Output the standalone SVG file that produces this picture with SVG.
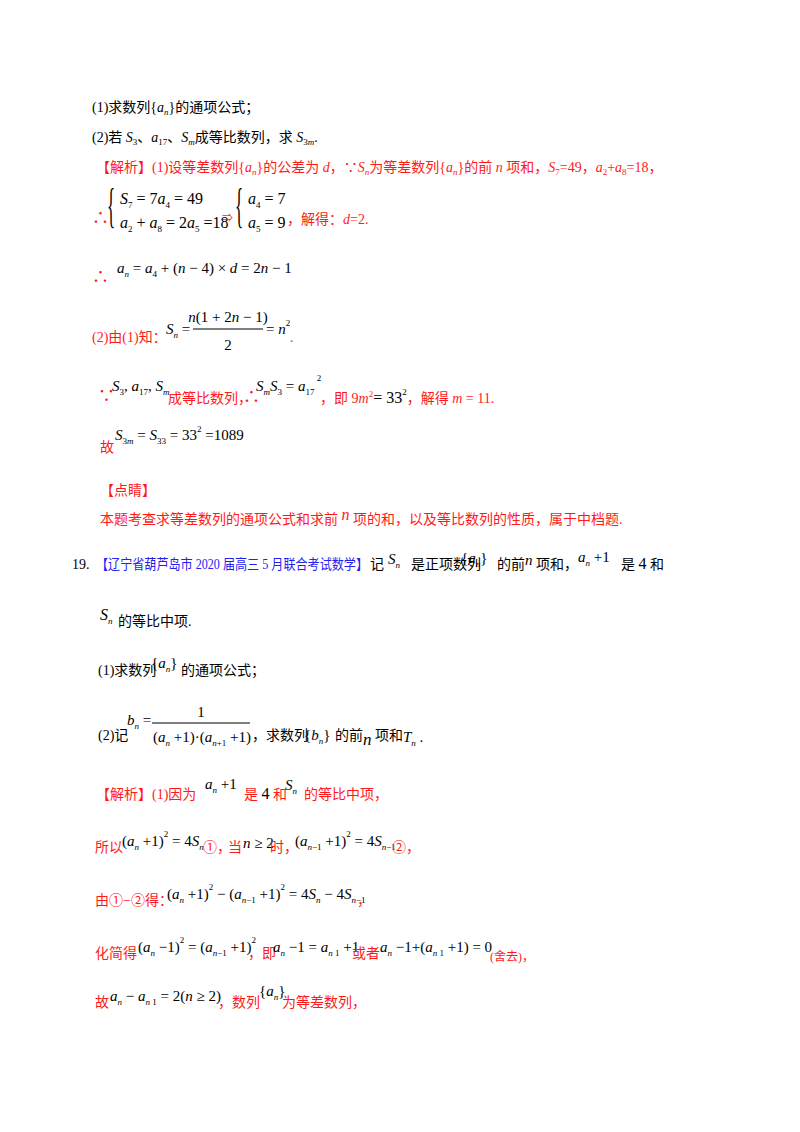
<svg xmlns="http://www.w3.org/2000/svg" width="800" height="1132" viewBox="0 0 800 1132">
<style>
text{font-family:"Liberation Serif","Noto Sans CJK SC",serif;font-size:14px;fill:#000}
.r{fill:#ff1a1a}
.bl{fill:#2222ee}
.m{font-size:15px;font-family:"Liberation Serif","Times New Roman",serif}
.i{font-style:italic}
.s{font-size:9px}
</style>
<rect width="800" height="1132" fill="#fff"/>
<text x="92" y="112">(1)求数列{<tspan class="i">a</tspan><tspan class="s i" dy="3">n</tspan><tspan dy="-3">}的通项公式；</tspan></text>
<text x="92" y="142">(2)若 <tspan class="i">S</tspan><tspan class="s" dy="3">3</tspan><tspan dy="-3">、</tspan><tspan class="i">a</tspan><tspan class="s" dy="3">17</tspan><tspan dy="-3">、</tspan><tspan class="i">S</tspan><tspan class="s i" dy="3">m</tspan><tspan dy="-3">成等比数列，求 </tspan><tspan class="i">S</tspan><tspan class="s" dy="3">3</tspan><tspan class="s i">m</tspan><tspan dy="-3">.</tspan></text>
<text x="96" y="172" class="r">【解析】(1)设等差数列{<tspan class="i">a</tspan><tspan class="s i" dy="3">n</tspan><tspan dy="-3">}的公差为 </tspan><tspan class="i">d</tspan>，∵<tspan class="i">S</tspan><tspan class="s i" dy="3">n</tspan><tspan dy="-3">为等差数列{</tspan><tspan class="i">a</tspan><tspan class="s i" dy="3">n</tspan><tspan dy="-3">}的前 </tspan><tspan class="i">n</tspan> 项和，<tspan class="i">S</tspan><tspan class="s" dy="3">7</tspan><tspan dy="-3">=49，</tspan><tspan class="i">a</tspan><tspan class="s" dy="3">2</tspan><tspan dy="-3">+</tspan><tspan class="i">a</tspan><tspan class="s" dy="3">8</tspan><tspan dy="-3">=18，</tspan></text>
<!-- system -->
<text x="92" y="224" class="r" style="font-size:17px">∴</text>
<text transform="translate(107,222) scale(1,2.9)" class="m" style="font-size:17px">{</text>
<text x="120" y="204" class="m" style="font-size:16px"><tspan class="i">S</tspan><tspan class="s" dy="4">7</tspan><tspan dy="-4"> = 7</tspan><tspan class="i">a</tspan><tspan class="s" dy="4">4</tspan><tspan dy="-4"> = 49</tspan></text>
<text x="120" y="228" class="m" style="font-size:16px"><tspan class="i">a</tspan><tspan class="s" dy="4">2</tspan><tspan dy="-4"> + </tspan><tspan class="i">a</tspan><tspan class="s" dy="4">8</tspan><tspan dy="-4"> = 2</tspan><tspan class="i">a</tspan><tspan class="s" dy="4">5</tspan><tspan dy="-4"> =18</tspan></text>
<text x="222" y="222" class="r" style="font-size:11px">⇒</text>
<text transform="translate(235,222) scale(1,2.9)" class="m" style="font-size:17px">{</text>
<text x="248" y="204" class="m" style="font-size:16px"><tspan class="i">a</tspan><tspan class="s" dy="4">4</tspan><tspan dy="-4"> = 7</tspan></text>
<text x="248" y="228" class="m" style="font-size:16px"><tspan class="i">a</tspan><tspan class="s" dy="4">5</tspan><tspan dy="-4"> = 9</tspan></text>
<text x="287" y="224" class="r">，解得：<tspan class="i">d</tspan>=2.</text>
<text x="92" y="283" class="r" style="font-size:17px">∴</text>
<text x="117" y="273" class="m"><tspan class="i">a</tspan><tspan class="s i" dy="4">n</tspan><tspan dy="-4"> = </tspan><tspan class="i">a</tspan><tspan class="s" dy="4">4</tspan><tspan dy="-4"> + (</tspan><tspan class="i">n</tspan> − 4) × <tspan class="i">d</tspan> = 2<tspan class="i">n</tspan> − 1</text>
<!-- (2) -->
<text x="92" y="342" class="r">(2)由(1)知：</text>
<text x="166" y="334" class="m"><tspan class="i">S</tspan><tspan class="s i" dy="4">n</tspan><tspan dy="-4"> =</tspan></text>
<text x="228" y="322" class="m" text-anchor="middle"><tspan class="i">n</tspan>(1 + 2<tspan class="i">n</tspan> − 1)</text>
<line x1="193" y1="329" x2="263" y2="329" stroke="#000" stroke-width="1"/>
<text x="228" y="350" class="m" text-anchor="middle">2</text>
<text x="266" y="334" class="m">= <tspan class="i">n</tspan><tspan class="s" dy="-8">2</tspan></text>
<text x="290" y="342" class="r">.</text>
<text x="98" y="402" class="r" style="font-size:17px">∵</text>
<text x="112" y="391" class="m"><tspan class="i">S</tspan><tspan class="s" dy="4">3</tspan><tspan dy="-4">, </tspan><tspan class="i">a</tspan><tspan class="s" dy="4">17</tspan><tspan dy="-4">, </tspan><tspan class="i">S</tspan><tspan class="s i" dy="4">m</tspan></text>
<text x="168" y="403" class="r">成等比数列，</text>
<text x="243" y="403" class="r" style="font-size:17px">∴</text>
<text x="256" y="391" class="m"><tspan class="i">S</tspan><tspan class="s i" dy="4">m</tspan><tspan class="i" dy="-4">S</tspan><tspan class="s" dy="4">3</tspan><tspan dy="-4"> = </tspan><tspan class="i">a</tspan><tspan class="s" dy="4">17</tspan><tspan class="s" dy="-14"> 2</tspan></text>
<text x="320" y="403" class="r">，即 9<tspan class="i">m</tspan><tspan class="s" dy="-6">2</tspan><tspan dy="6" fill="#000" style="font-size:16px">= 33</tspan><tspan class="s" dy="-8" fill="#000">2</tspan><tspan dy="8">，解得 </tspan><tspan class="i">m</tspan> = 11.</text>
<text x="100" y="452" class="r">故</text>
<text x="115" y="440" class="m"><tspan class="i">S</tspan><tspan class="s" dy="4">3</tspan><tspan class="s i">m</tspan><tspan dy="-4"> = </tspan><tspan class="i">S</tspan><tspan class="s" dy="4">33</tspan><tspan dy="-4"> = 33</tspan><tspan class="s" dy="-8">2</tspan><tspan dy="8"> =1089</tspan></text>
<text x="100" y="495" class="r">【点睛】</text>
<text x="100" y="524" class="r">本题考查求等差数列的通项公式和求前 <tspan class="i" style="font-size:16px" dy="-4">n</tspan><tspan dy="4"> 项的和，以及等比数列的性质，属于中档题.</tspan></text>
<!-- 19 -->
<text x="72" y="569">19.</text>
<text x="96" y="569" class="bl" textLength="272" lengthAdjust="spacingAndGlyphs">【辽宁省葫芦岛市 2020 届高三 5 月联合考试数学】</text>
<text x="370" y="569">记</text>
<text x="388" y="564" class="m"><tspan class="i">S</tspan><tspan class="s i" dy="4">n</tspan></text>
<text x="411" y="569">是正项数列</text>
<text x="461" y="563" class="m">{<tspan class="i">a</tspan><tspan class="s i" dy="4">n</tspan><tspan dy="-4">}</tspan></text>
<text x="497" y="569">的前</text>
<text x="525" y="565" class="i m">n</text>
<text x="536" y="569">项和，</text>
<text x="578" y="562" class="m"><tspan class="i">a</tspan><tspan class="s i" dy="4">n</tspan><tspan dy="-4"> +1</tspan></text>
<text x="621" y="569">是 <tspan style="font-size:16px">4</tspan> 和</text>
<text x="100" y="620" class="m" style="font-size:16px"><tspan class="i">S</tspan><tspan class="s i" dy="4">n</tspan></text>
<text x="118" y="626">的等比中项.</text>
<text x="98" y="675">(1)求数列</text>
<text x="151" y="668" class="m">{<tspan class="i">a</tspan><tspan class="s i" dy="4">n</tspan><tspan dy="-4">}</tspan></text>
<text x="181" y="675">的通项公式；</text>
<text x="98" y="740">(2)记</text>
<text x="127" y="725" class="m"><tspan class="i">b</tspan><tspan class="s i" dy="4">n</tspan><tspan dy="-4"> =</tspan></text>
<text x="201" y="717" class="m" text-anchor="middle">1</text>
<line x1="152" y1="723" x2="250" y2="723" stroke="#000" stroke-width="1"/>
<text x="153" y="742" class="m">(<tspan class="i">a</tspan><tspan class="s i" dy="4">n</tspan><tspan dy="-4"> +1)·(</tspan><tspan class="i">a</tspan><tspan class="s" dy="4"><tspan class="i">n</tspan>+1</tspan><tspan dy="-4"> +1)</tspan></text>
<text x="252" y="740">，求数列</text>
<text x="304" y="740" class="m">{<tspan class="i">b</tspan><tspan class="s i" dy="4">n</tspan><tspan dy="-4">}</tspan></text>
<text x="335" y="740">的前</text>
<text x="363" y="745" class="i m" style="font-size:17px">n</text>
<text x="375" y="740">项和</text>
<text x="403" y="742" class="m"><tspan class="i">T</tspan><tspan class="s i" dy="4">n</tspan><tspan dy="-4"> .</tspan></text>
<!-- analysis -->
<text x="96" y="799" class="r">【解析】(1)因为</text>
<text x="205" y="789" class="m"><tspan class="i">a</tspan><tspan class="s i" dy="4">n</tspan><tspan dy="-4"> +1</tspan></text>
<text x="244" y="799" class="r">是 <tspan fill="#000" style="font-size:16px">4</tspan> 和</text>
<text x="285" y="790" class="m"><tspan class="i">S</tspan><tspan class="s i" dy="4">n</tspan></text>
<text x="304" y="799" class="r">的等比中项，</text>
<text x="95" y="852" class="r">所以</text>
<text x="122" y="846" class="m">(<tspan class="i">a</tspan><tspan class="s i" dy="4">n</tspan><tspan dy="-4"> +1)</tspan><tspan class="s" dy="-9">2</tspan><tspan dy="9"> = 4</tspan><tspan class="i">S</tspan><tspan class="s i" dy="4">n</tspan></text>
<text x="203" y="852" class="r">①，</text>
<text x="228" y="852" class="r">当</text>
<text x="243" y="848" class="m"><tspan class="i">n</tspan> ≥ 2</text>
<text x="270" y="852" class="r">时，</text>
<text x="295" y="846" class="m">(<tspan class="i">a</tspan><tspan class="s" dy="4"><tspan class="i">n</tspan>−1</tspan><tspan dy="-4"> +1)</tspan><tspan class="s" dy="-9">2</tspan><tspan dy="9"> = 4</tspan><tspan class="i">S</tspan><tspan class="s" dy="4"><tspan class="i">n</tspan>−1</tspan></text>
<text x="392" y="852" class="r">②，</text>
<text x="95" y="905" class="r">由①−②得：</text>
<text x="167" y="899" class="m">(<tspan class="i">a</tspan><tspan class="s i" dy="4">n</tspan><tspan dy="-4"> +1)</tspan><tspan class="s" dy="-9">2</tspan><tspan dy="9"> − (</tspan><tspan class="i">a</tspan><tspan class="s" dy="4"><tspan class="i">n</tspan>−1</tspan><tspan dy="-4"> +1)</tspan><tspan class="s" dy="-9">2</tspan><tspan dy="9"> = 4</tspan><tspan class="i">S</tspan><tspan class="s i" dy="4">n</tspan><tspan dy="-4"> − 4</tspan><tspan class="i">S</tspan><tspan class="s" dy="4"><tspan class="i">n</tspan>−1</tspan></text>
<text x="357" y="905" class="r">，</text>
<text x="95" y="958" class="r">化简得</text>
<text x="138" y="952" class="m">(<tspan class="i">a</tspan><tspan class="s i" dy="4">n</tspan><tspan dy="-4"> −1)</tspan><tspan class="s" dy="-9">2</tspan><tspan dy="9"> = (</tspan><tspan class="i">a</tspan><tspan class="s" dy="4"><tspan class="i">n</tspan>−1</tspan><tspan dy="-4"> +1)</tspan><tspan class="s" dy="-9">2</tspan></text>
<text x="248" y="958" class="r">，即</text>
<text x="273" y="952" class="m"><tspan class="i">a</tspan><tspan class="s i" dy="4">n</tspan><tspan dy="-4"> −1 = </tspan><tspan class="i">a</tspan><tspan class="s" dy="4"><tspan class="i">n</tspan> 1</tspan><tspan dy="-4"> +1</tspan></text>
<text x="352" y="958" class="r">或者</text>
<text x="380" y="952" class="m"><tspan class="i">a</tspan><tspan class="s i" dy="4">n</tspan><tspan dy="-4"> −1+(</tspan><tspan class="i">a</tspan><tspan class="s" dy="4"><tspan class="i">n</tspan> 1</tspan><tspan dy="-4"> +1) = 0</tspan></text>
<text x="490" y="961" class="r" style="font-size:12px">(舍去)，</text>
<text x="95" y="1007" class="r">故</text>
<text x="110" y="1001" class="m"><tspan class="i">a</tspan><tspan class="s i" dy="4">n</tspan><tspan dy="-4"> − </tspan><tspan class="i">a</tspan><tspan class="s" dy="4"><tspan class="i">n</tspan> 1</tspan><tspan dy="-4"> = 2(</tspan><tspan class="i">n</tspan> ≥ 2)</text>
<text x="218" y="1007" class="r">，数列</text>
<text x="259" y="996" class="m">{<tspan class="i">a</tspan><tspan class="s i" dy="4">n</tspan><tspan dy="-4">}</tspan></text>
<text x="282" y="1007" class="r">为等差数列，</text>
</svg>
